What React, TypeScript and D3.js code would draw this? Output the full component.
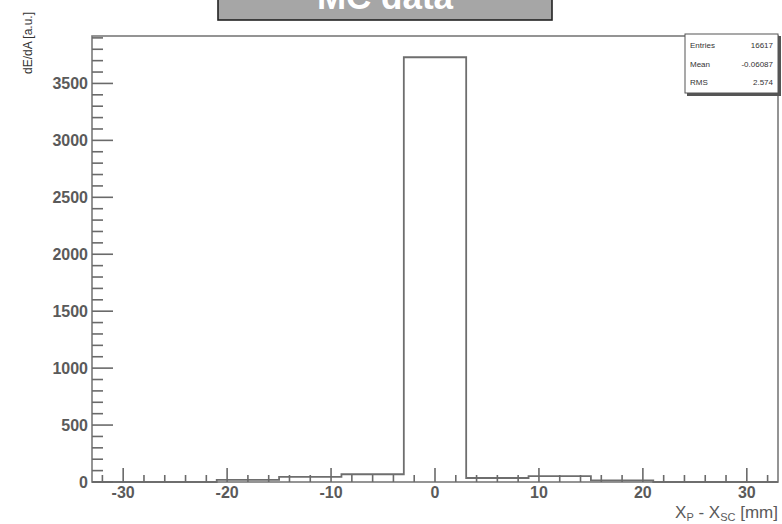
import React from "react";
import * as d3 from "d3";

const binEdges = [-33, -27, -21, -15, -9, -3, 3, 9, 15, 21, 27, 33];
const binValues = [0, 0, 18, 45, 68, 3730, 35, 52, 14, 0, 0];
const xMajorTicks = [-30, -20, -10, 0, 10, 20, 30];
const yMajorTicks = [0, 500, 1000, 1500, 2000, 2500, 3000, 3500];
const statsLabels = ["Entries", "Mean", "RMS"];
const statsValues = ["16617", "-0.06087", "2.574"];
const titleText = "MC data";

const W = 782;
const H = 524;
const L = 92, R = 778, T = 36, B = 482;

export default function App() {
  const yMax = d3.max(binValues)! * 1.05;
  const x = d3.scaleLinear().domain([-33, 33]).range([L, R]);
  const y = d3.scaleLinear().domain([0, yMax]).range([B, T]);

  const xMinor = d3.range(-32, 33, 2).filter((v) => v % 10 !== 0);
  const yMinor = d3.range(0, yMax, 100).filter((v) => v % 500 !== 0);

  const pts: [number, number][] = [];
  pts.push([x(binEdges[0]), y(0)]);
  binValues.forEach((v, i) => {
    pts.push([x(binEdges[i]), y(v)]);
    pts.push([x(binEdges[i + 1]), y(v)]);
  });
  pts.push([x(binEdges[binEdges.length - 1]), y(0)]);
  const path = d3.line()(pts)!;

  const axisColor = "#6a6a6a";
  const textColor = "#5a5a5a";
  const font = "'Liberation Sans', Arial, sans-serif";

  return (
    <svg
      width={W}
      height={H}
      style={{ position: "absolute", left: 0, top: 0, background: "#fff" }}
      fontFamily={font}
    >
      <rect x={0} y={0} width={W} height={H} fill="#fff" />
      <rect x={L} y={T} width={R - L} height={B - T} fill="none" stroke="#7a7a7a" strokeWidth={1.6} />

      <path d={path} fill="none" stroke="#6e6e6e" strokeWidth={1.8} />

      {xMajorTicks.map((t) => (
        <g key={"xm" + t}>
          <line x1={x(t)} x2={x(t)} y1={B} y2={B - 14} stroke={axisColor} strokeWidth={1.6} />
          <text x={x(t)} y={498} textAnchor="middle" fontSize={16} fontWeight="bold" fill={textColor}>
            {t}
          </text>
        </g>
      ))}
      {xMinor.map((t) => (
        <line key={"xn" + t} x1={x(t)} x2={x(t)} y1={B} y2={B - 7} stroke={axisColor} strokeWidth={1.6} />
      ))}

      {yMajorTicks.map((t) => (
        <g key={"ym" + t}>
          <line x1={L} x2={L + 21} y1={y(t)} y2={y(t)} stroke={axisColor} strokeWidth={1.6} />
          <text x={88} y={y(t)} dy="0.36em" textAnchor="end" fontSize={16} fontWeight="bold" fill={textColor}>
            {t}
          </text>
        </g>
      ))}
      {yMinor.map((t) => (
        <line key={"yn" + t} x1={L} x2={L + 11} y1={y(t)} y2={y(t)} stroke={axisColor} strokeWidth={1.6} />
      ))}

      <text x={R} y={518} textAnchor="end" fontSize={17} fill={textColor}>
        X
        <tspan fontSize={11} dy={3}>P</tspan>
        <tspan dy={-3}>{" - X"}</tspan>
        <tspan fontSize={11} dy={3}>SC</tspan>
        <tspan dy={-3}>{" [mm]"}</tspan>
      </text>

      <text transform={`translate(32,12) rotate(-90)`} textAnchor="end" fontSize={12} fill="#333">
        dE/dA [a.u.]
      </text>

      <rect x={687} y={36} width={94} height={60} fill="#555" />
      <rect x={685} y={34} width={93} height={59} fill="#fff" stroke="#555" strokeWidth={1} />
      {statsLabels.map((lab, i) => (
        <g key={lab}>
          <text x={690} y={48 + i * 18.5} fontSize={8} fill="#333">
            {lab}
          </text>
          <text x={773} y={48 + i * 18.5} fontSize={8} fill="#333" textAnchor="end">
            {statsValues[i]}
          </text>
        </g>
      ))}

      <rect x={218} y={-3} width={334} height={23} fill="#a6a6a6" stroke="#222" strokeWidth={1.6} />
      <text x={385} y={9} textAnchor="middle" fontSize={35} fontWeight="bold" fill="#fff">
        {titleText}
      </text>
    </svg>
  );
}
